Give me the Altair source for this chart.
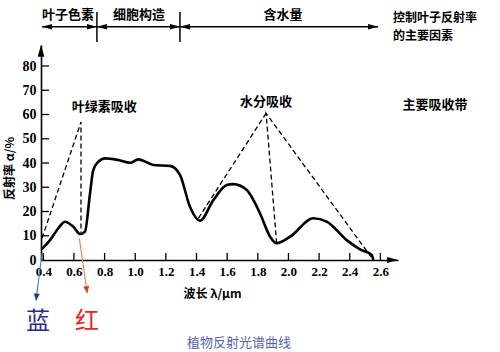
import math
import altair as alt
import pandas as pd

# ---------------- data ----------------
curve_x = [0.39, 0.444, 0.498, 0.542, 0.596, 0.640, 0.672, 0.705, 0.726, 0.759, 0.803, 0.890, 0.966,
           1.020, 1.118, 1.227, 1.292, 1.357, 1.423, 1.510, 1.597, 1.640, 1.728, 1.814, 1.880,
           1.923, 2.011, 2.162, 2.250, 2.380, 2.467, 2.544, 2.554]
curve_y = [4.5, 8.2, 13.1, 15.8, 13.7, 10.7, 11.7, 27.5, 37.1, 40.5, 41.9, 41.2, 40.1,
           41.5, 39.2, 38.8, 35.1, 22.0, 16.2, 24.7, 30.9, 31.3, 28.9, 19.3, 9.6,
           6.9, 9.6, 17.2, 15.8, 8.2, 4.4, 2.1, 0.0]

# dashed absorption envelopes (x, y, segment id)
dash_x = [0.392, 0.646, 0.646, 1.412, 1.854, 1.923, 1.854, 2.554]
dash_y = [9.0, 56.9, 11.3, 17.2, 60.5, 6.9, 60.5, 0.0]
dash_id = ["a", "a", "a", "b", "b", "c", "c", "c"]

x_ticks = [0.4, 0.6, 0.8, 1.0, 1.2, 1.4, 1.6, 1.8, 2.0, 2.2, 2.4, 2.6]
y_ticks = [0, 10, 20, 30, 40, 50, 60, 70, 80]

x_domain = [0.385, 2.715]
y_domain = [0, 88.66]

annot_text = ["叶绿素吸收", "水分吸收", "主要吸收带"]
annot_x = [0.797, 1.854, 2.957]
annot_y = [63.1, 65.3, 63.9]

header_text = ["叶子色素", "细胞构造", "含水量"]
header_x = [0.561, 1.025, 1.965]
header_y = [101.0, 101.0, 101.0]
header_line_y = 96.2
header_start = 0.392
header_end = 2.585
divider_x = [0.750, 1.292]
divider_y = [89.9, 102.3]

factor_text = ["控制叶子反射率", "的主要因素"]
factor_x = [2.683, 2.683]
factor_y = [99.8, 92.4]

blue_arrow = {"x": [0.392, 0.352], "y": [2.9, -16.8]}
red_arrow = {"x": [0.635, 0.687], "y": [8.95, -13.7]}
color_labels = ["蓝", "红"]
color_label_x = [0.365, 0.685]
color_label_y = [-25.6, -25.6]
caption = "植物反射光谱曲线"
caption_x = [1.677]
caption_y = [-34.2]

# ---------------- helpers ----------------
W, H = 357, 215
px_per_x = W / (x_domain[1] - x_domain[0])
px_per_y = H / (y_domain[1] - y_domain[0])

xscale = alt.Scale(domain=x_domain, nice=False, zero=False)
yscale = alt.Scale(domain=y_domain, nice=False, zero=False)

CJK = "Noto Sans CJK SC"
SERIF = "Liberation Serif"

xaxis = alt.Axis(values=x_ticks, format=".1f", ticks=False, grid=False,
                 domainColor="black", domainWidth=1.6,
                 labelFont=SERIF, labelFontWeight="bold", labelFontSize=13, labelColor="black",
                 labelPadding=5, labelFlush=False,
                 title="波长 λ/μm", titleFont=CJK, titleFontWeight="bold", titleFontSize=12,
                 titleColor="black", titleX=171, titleY=33, titleBaseline="middle",
                 titleAlign="center")
yaxis = alt.Axis(values=y_ticks, format="d", ticks=False, grid=False,
                 domainColor="black", domainWidth=1.6,
                 labelFont=SERIF, labelFontWeight="bold", labelFontSize=14, labelColor="black",
                 labelPadding=5,
                 title="反射率 α/%", titleFont=CJK, titleFontWeight="bold", titleFontSize=12,
                 titleColor="black", titleX=-32, titleY=123, titleAngle=270,
                 titleBaseline="middle", titleAlign="center")


def X(f="x"):
    return alt.X(f"{f}:Q", scale=xscale, axis=xaxis)


def Y(f="y"):
    return alt.Y(f"{f}:Q", scale=yscale, axis=yaxis)


# ---------------- layers ----------------
curve_df = pd.DataFrame({"x": curve_x, "y": curve_y})
curve = alt.Chart(curve_df).mark_line(color="black", strokeWidth=2.6, interpolate="monotone").encode(
    x=X(), y=Y())

dash_df = pd.DataFrame({"x": dash_x, "y": dash_y, "id": dash_id, "o": list(range(len(dash_x)))})
dashed = alt.Chart(dash_df).mark_line(color="black", strokeWidth=1.3, strokeDash=[5, 3]).encode(
    x=X(), y=Y(), detail="id:N", order="o:Q")

# inward tick marks
xt_df = pd.DataFrame({"x": x_ticks, "y": [0] * len(x_ticks), "y2": [7 / px_per_y] * len(x_ticks)})
xticks = alt.Chart(xt_df).mark_rule(color="black", strokeWidth=1.3).encode(
    x=X(), y=Y(), y2="y2:Q")
yt = [v for v in y_ticks if v > 0]
yt_df = pd.DataFrame({"y": yt, "x": [x_domain[0]] * len(yt), "x2": [x_domain[0] + 8 / px_per_x] * len(yt)})
yticks = alt.Chart(yt_df).mark_rule(color="black", strokeWidth=1.3).encode(
    x=X(), x2="x2:Q", y=Y())

# arrow heads (custom paths with the tip at the origin)
RIGHT = "M0,0L-1,-0.28L-1,0.28Z"
LEFT = "M0,0L1,-0.28L1,0.28Z"
UP = "M0,0L-0.28,1L0.28,1Z"
DOWN = "M0,0L-0.42,-1L0.42,-1Z"


def heads(xs, ys, shape, size, color, angle=0):
    df = pd.DataFrame({"x": xs, "y": ys})
    return alt.Chart(df).mark_point(shape=shape, size=size, filled=True, color=color,
                                    opacity=1, strokeWidth=0, angle=angle).encode(x=X(), y=Y())


axis_up = heads([x_domain[0]], [y_domain[1]], UP, 560, "black")
axis_right = heads([x_domain[1]], [0], RIGHT, 480, "black")

# header
hl_df = pd.DataFrame({"x": [header_start], "x2": [header_end], "y": [header_line_y]})
header_line = alt.Chart(hl_df).mark_rule(color="black", strokeWidth=1.5).encode(
    x=X(), x2="x2:Q", y=Y())
dv_df = pd.DataFrame({"x": divider_x, "y": [divider_y[0]] * 2, "y2": [divider_y[1]] * 2})
dividers = alt.Chart(dv_df).mark_rule(color="black", strokeWidth=1.5).encode(
    x=X(), y=Y(), y2="y2:Q")
h_right = heads([divider_x[0], divider_x[1], header_end], [header_line_y] * 3, RIGHT, 400, "black")
h_left = heads([header_start, divider_x[0], divider_x[1]], [header_line_y] * 3, LEFT, 400, "black")

ht_df = pd.DataFrame({"x": header_x, "y": header_y, "t": header_text})
header_txt = alt.Chart(ht_df).mark_text(font=CJK, fontWeight="bold", fontSize=13, color="black",
                                        baseline="middle", align="center").encode(
    x=X(), y=Y(), text="t:N")
ft_df = pd.DataFrame({"x": factor_x, "y": factor_y, "t": factor_text})
factor_txt = alt.Chart(ft_df).mark_text(font=CJK, fontWeight="bold", fontSize=12, color="black",
                                        baseline="middle", align="left").encode(
    x=X(), y=Y(), text="t:N")

an_df = pd.DataFrame({"x": annot_x, "y": annot_y, "t": annot_text})
annots = alt.Chart(an_df).mark_text(font=CJK, fontWeight="bold", fontSize=13, color="black",
                                    baseline="middle", align="center").encode(
    x=X(), y=Y(), text="t:N")


# blue / red pointers
def pointer(arrow, line_color, head_color):
    df = pd.DataFrame({"x": [arrow["x"][0]], "y": [arrow["y"][0]],
                       "x2": [arrow["x"][1]], "y2": [arrow["y"][1]]})
    ln = alt.Chart(df).mark_rule(color=line_color, strokeWidth=1.1).encode(
        x=X(), y=Y(), x2="x2:Q", y2="y2:Q")
    dx = (arrow["x"][1] - arrow["x"][0]) * px_per_x
    dy = -(arrow["y"][1] - arrow["y"][0]) * px_per_y
    ang = math.degrees(math.atan2(-dx, dy)) % 360
    hd = heads([arrow["x"][1]], [arrow["y"][1]], DOWN, 200, head_color, angle=ang)
    return ln + hd


blue = pointer(blue_arrow, "#4a78b0", "#1d3f7c")
red = pointer(red_arrow, "#ec7a5c", "#d8401c")

cl_df = pd.DataFrame({"x": color_label_x, "y": color_label_y, "t": color_labels,
                      "c": ["#1f2f8f", "#ee2222"]})
color_txt = alt.Chart(cl_df).mark_text(font=CJK, fontSize=24, baseline="middle",
                                       align="center").encode(
    x=X(), y=Y(), text="t:N", color=alt.Color("c:N", scale=None))

cap_df = pd.DataFrame({"x": caption_x, "y": caption_y, "t": [caption]})
cap_txt = alt.Chart(cap_df).mark_text(font=CJK, fontSize=13, color="#5563b0", baseline="middle",
                                      align="center").encode(
    x=X(), y=Y(), text="t:N")

chart = alt.layer(
    curve, dashed, xticks, yticks, axis_up, axis_right,
    header_line, dividers, h_right, h_left, header_txt, factor_txt, annots,
    blue, red, color_txt, cap_txt
).properties(
    width=W, height=H,
    autosize=alt.AutoSizeParams(type="none"),
    padding={"left": 41, "top": 45, "right": 500 - 41 - W, "bottom": 352 - 45 - H},
    background="white",
).configure_view(stroke=None)

chart.save("out.html", embed_options={"renderer": "svg", "actions": False})
